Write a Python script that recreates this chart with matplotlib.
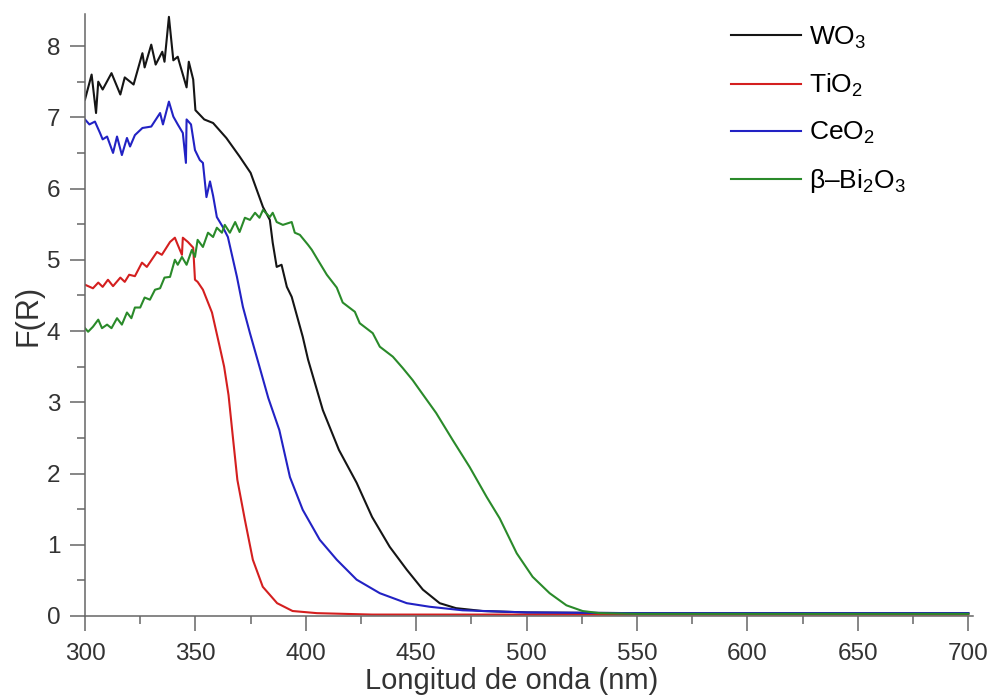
import numpy as np
import matplotlib.pyplot as plt

plt.rcParams['font.family'] = ['Liberation Sans', 'DejaVu Sans']
plt.rcParams['mathtext.fontset'] = 'custom'
plt.rcParams['mathtext.rm'] = 'Liberation Sans'
plt.rcParams['mathtext.it'] = 'Liberation Sans:italic'

# WO3 (black)
wo3_x = [300, 303, 305, 306, 308, 312, 316, 318, 322, 326, 327, 330, 332, 335, 336, 338, 340, 342, 343,
         346, 347, 349, 350, 354, 358, 364, 370, 375, 380.6, 383.7, 385, 386.8, 389, 391.4, 393.6, 398.6,
         401, 407.7, 415, 423, 430, 438, 445.7, 453, 460.6, 468, 480, 500, 550, 600, 650, 700]
wo3_y = [7.25, 7.6, 7.06, 7.5, 7.39, 7.62, 7.32, 7.56, 7.46, 7.9, 7.7, 8.02, 7.74, 7.92, 7.78, 8.41, 7.8, 7.85, 7.74,
         7.42, 7.78, 7.53, 7.1, 6.97, 6.92, 6.71, 6.45, 6.22, 5.74, 5.56, 5.24, 4.9, 4.93, 4.62, 4.48, 3.92,
         3.6, 2.89, 2.33, 1.87, 1.39, 0.97, 0.65, 0.37, 0.18, 0.11, 0.07, 0.05, 0.04, 0.04, 0.04, 0.04]

# TiO2 (red)
tio2_x = [300, 303.6, 306, 308, 310.4, 312.7, 316, 318, 320, 322.6, 325.8, 328, 332.6, 334.8, 338.5, 340.7, 342,
          343.9, 344.3, 346.6, 349, 349.8, 351, 353.4, 357.5, 361, 363, 365, 367, 369, 372.4, 376, 380.5, 387,
          394, 405, 430, 500, 600, 700]
tio2_y = [4.65, 4.6, 4.68, 4.62, 4.72, 4.63, 4.75, 4.69, 4.79, 4.77, 4.96, 4.9, 5.11, 5.07, 5.25, 5.31, 5.21,
          5.07, 5.31, 5.25, 5.17, 4.72, 4.69, 4.58, 4.26, 3.78, 3.5, 3.1, 2.5, 1.91, 1.35, 0.79, 0.41, 0.18,
          0.07, 0.04, 0.02, 0.02, 0.02, 0.02]

# CeO2 (blue)
ceo2_x = [300, 302, 304.5, 306.8, 308, 310, 312.7, 314.5, 316.7, 319, 320.4, 322.6, 326, 330, 334, 335.3, 338,
          340, 342, 344.3, 345.7, 346, 348, 349.8, 352, 353.4, 355, 356.6, 358, 359.7, 362.4, 364.7, 368.8,
          371.5, 374.7, 379, 383, 388, 392.8, 398.6, 406.3, 414, 423, 433.5, 445.7, 456, 471, 500, 550, 600,
          650, 700]
ceo2_y = [6.97, 6.9, 6.94, 6.78, 6.69, 6.73, 6.5, 6.73, 6.47, 6.71, 6.59, 6.75, 6.85, 6.87, 7.06, 6.9, 7.22,
          7.01, 6.9, 6.78, 6.36, 6.97, 6.9, 6.54, 6.4, 6.36, 5.88, 6.1, 5.9, 5.6, 5.46, 5.32, 4.76,
          4.34, 3.97, 3.5, 3.06, 2.61, 1.95, 1.49, 1.07, 0.79, 0.51, 0.32, 0.18, 0.13, 0.08, 0.05, 0.04, 0.04,
          0.04, 0.04]

# beta-Bi2O3 (green)
bi2o3_x = [300, 301.4, 303.6, 306, 307.7, 310, 312, 314.5, 316.7, 319, 321, 322.6, 325, 327, 329.4, 331.7, 334,
           336, 338.5, 340.7, 342, 343.9, 346, 348.4, 349.8, 351, 353.4, 355.7, 358, 359.7, 362, 363.3, 365.6,
           368, 370, 372.4, 374.7, 377, 379, 380.6, 383.7, 385, 386.8, 389.6, 393.6, 395, 397.3, 401, 402.7,
           405.4, 409.5, 414, 416.7, 422.2, 424.4, 430.3, 433.5, 439.4, 443.9, 448.4, 451.6, 459, 466.5,
           474.2, 481.9, 487.8, 495.5, 502.7, 510.4, 518, 525.3, 533, 550, 600, 650, 700]
bi2o3_y = [4.04, 3.99, 4.06, 4.16, 4.04, 4.09, 4.04, 4.18, 4.09, 4.26, 4.18, 4.33, 4.33, 4.47, 4.44, 4.58, 4.6,
           4.75, 4.76, 5.0, 4.93, 5.04, 4.93, 5.14, 5.04, 5.28, 5.18, 5.38, 5.32, 5.45, 5.38, 5.49, 5.38,
           5.53, 5.39, 5.59, 5.56, 5.66, 5.59, 5.7, 5.6, 5.66, 5.53, 5.49, 5.53, 5.38, 5.35, 5.21, 5.14,
           5.0, 4.79, 4.61, 4.4, 4.27, 4.11, 3.97, 3.78, 3.64, 3.48, 3.31, 3.17, 2.85, 2.47,
           2.09, 1.67, 1.37, 0.88, 0.55, 0.32, 0.15, 0.07, 0.04, 0.03, 0.03, 0.03, 0.03]

labels = ['WO$_3$', 'TiO$_2$', 'CeO$_2$', '\u03b2\u2013Bi$_2$O$_3$']
colors = ['#151515', '#d41f1f', '#2222c4', '#2a8a2a']

fig = plt.figure(figsize=(9.93, 7.0), dpi=100)
ax = fig.add_axes([0.0856, 0.12, 0.894, 0.86])

for xs, ys, lab, c in zip([wo3_x, tio2_x, ceo2_x, bi2o3_x], [wo3_y, tio2_y, ceo2_y, bi2o3_y], labels, colors):
    ax.plot(xs, ys, color=c, lw=1.5, label=lab)

ax.set_xlim(300, 702)
ax.set_ylim(0, 8.45)
ax.set_xticks(np.arange(300, 701, 50))
ax.set_yticks(np.arange(0, 9, 1))
ax.set_xticks(np.arange(325, 700, 50), minor=True)
ax.set_yticks(np.arange(0.5, 8.5, 1), minor=True)

for s in ['top', 'right']:
    ax.spines[s].set_visible(False)
for s in ['left', 'bottom']:
    ax.spines[s].set_color('#666666')
    ax.spines[s].set_linewidth(1.1)

ax.tick_params(which='major', direction='out', length=10.8, width=1.1, color='#666666',
               labelsize=17.5, labelcolor='#333333')
ax.tick_params(axis='x', which='major', pad=9)
ax.tick_params(axis='y', which='major', pad=7)
ax.tick_params(which='minor', direction='out', length=5.8, width=1.1, color='#666666')

ax.set_xlabel('Longitud de onda (nm)', fontsize=21, color='#333333')
ax.xaxis.set_label_coords(0.481, -0.084)
ax.set_ylabel('F(R)', fontsize=22, color='#333333', labelpad=2)

ax.legend(loc='upper left', bbox_to_anchor=(0.712, 0.999), bbox_transform=fig.transFigure,
          frameon=False, fontsize=19, handlelength=2.65, handletextpad=0.3, labelspacing=0.8)

fig.savefig('out.png', dpi=100)
